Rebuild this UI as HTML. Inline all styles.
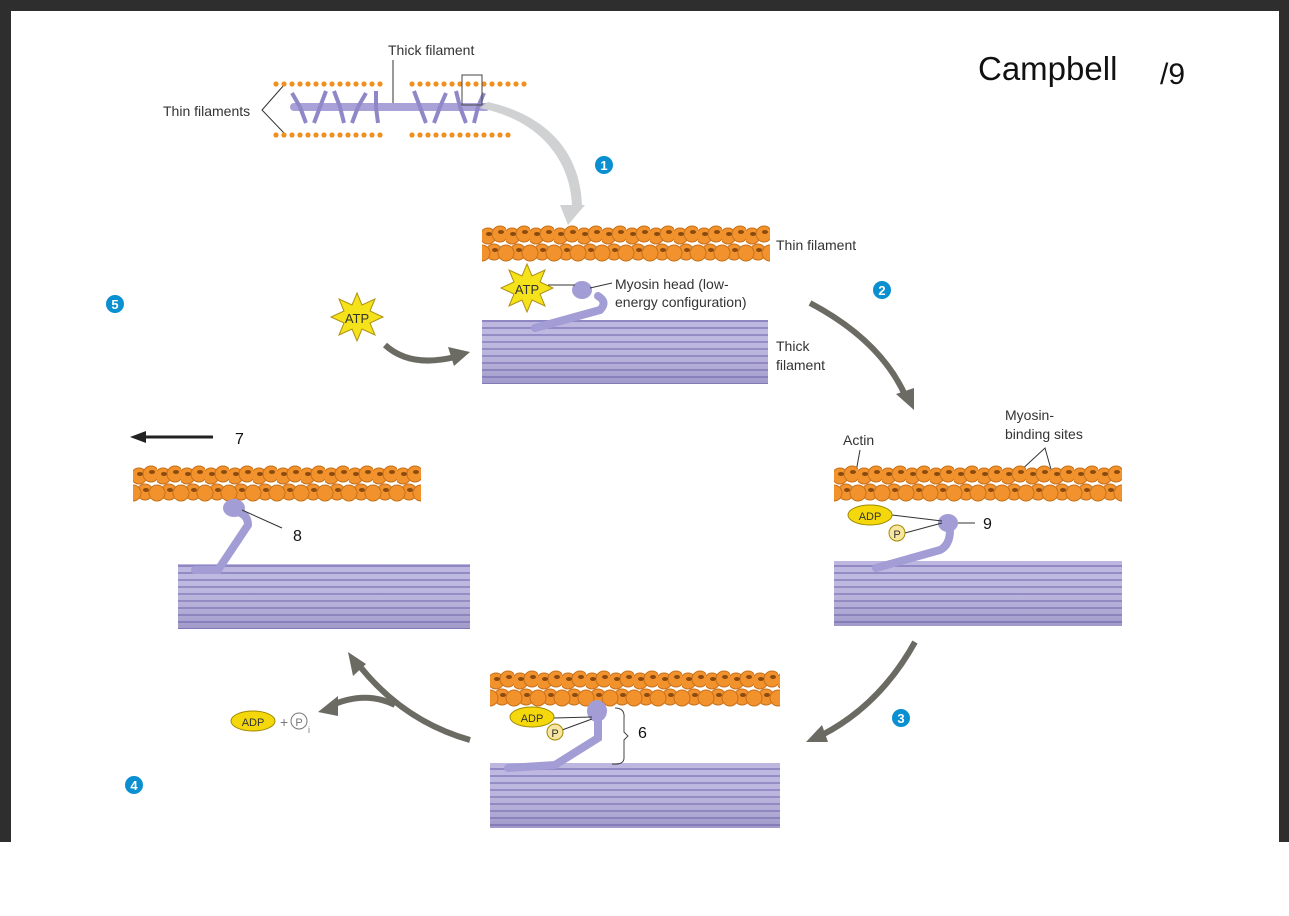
<!DOCTYPE html>
<html><head><meta charset="utf-8"><style>
html,body{margin:0;padding:0;background:#fff}
svg{display:block}
text{font-family:"Liberation Sans",sans-serif}
</style></head><body>
<svg width="1289" height="916" viewBox="0 0 1289 916" xmlns="http://www.w3.org/2000/svg">
<defs>
<pattern id="beads" width="24" height="38" patternUnits="userSpaceOnUse">
<g fill="#f2922c" stroke="#c8701a" stroke-width="1">
<circle cx="6" cy="11" r="8"/><circle cx="18" cy="9" r="8"/>
<circle cx="12" cy="27" r="8"/><circle cx="24" cy="28" r="8"/><circle cx="0" cy="28" r="8"/>
</g>
<g fill="#8a4a10"><ellipse cx="7" cy="9" rx="3" ry="2"/><ellipse cx="19" cy="7" rx="3" ry="2"/><ellipse cx="13" cy="25" rx="3" ry="2"/></g>
</pattern>
<pattern id="thick" width="10" height="7" patternUnits="userSpaceOnUse">
<rect width="10" height="7" fill="#bcb6e0"/><rect y="5" width="10" height="2" fill="#8d86c2"/>
</pattern>
<pattern id="tiny" width="8" height="8" patternUnits="userSpaceOnUse">
<circle cx="4" cy="4" r="2.6" fill="#f0901e"/>
</pattern>
<linearGradient id="shade" x1="0" y1="0" x2="0" y2="1"><stop offset="0" stop-color="#fff" stop-opacity="0"/><stop offset="1" stop-color="#6a629f" stop-opacity=".35"/></linearGradient>
</defs>
<rect width="1289" height="916" fill="#fff"/>
<rect x="0" y="0" width="1289" height="11" fill="#2e2e2e"/>
<rect x="0" y="0" width="11" height="842" fill="#2e2e2e"/>
<rect x="1279" y="0" width="10" height="842" fill="#2e2e2e"/>

<!-- top sarcomere -->
<text x="388" y="55" font-size="14" fill="#333">Thick filament</text>
<line x1="393" y1="60" x2="393" y2="107" stroke="#333"/>
<text x="163" y="116" font-size="14" fill="#333">Thin filaments</text>
<polyline points="284,85 262,110 284,133" fill="none" stroke="#333"/>
<g transform="translate(272,80)"><rect width="112" height="8" fill="url(#tiny)"/></g>
<g transform="translate(408,80)"><rect width="120" height="8" fill="url(#tiny)"/></g>
<g transform="translate(272,131)"><rect width="112" height="8" fill="url(#tiny)"/></g>
<g transform="translate(408,131)"><rect width="104" height="8" fill="url(#tiny)"/></g>
<rect x="290" y="103" width="200" height="8" rx="4" fill="#a8a2d8"/>
<g stroke="#8f88c8" stroke-width="4" fill="#a8a2d8">
<path d="M300,107 l-8,-14 M320,107 l6,-16 M340,107 l-6,-16 M358,107 l8,-14 M376,107 l0,-16 M420,107 l-6,-16 M440,107 l6,-14 M460,107 l-4,-16 M478,107 l6,-14"/>
<path d="M300,107 l6,16 M320,107 l-6,16 M340,107 l4,16 M358,107 l-6,16 M376,107 l2,16 M420,107 l6,16 M440,107 l-6,16 M460,107 l6,16 M478,107 l-4,16"/>
</g>
<rect x="462" y="75" width="20" height="30" fill="none" stroke="#444"/>
<path d="M480,108 C540,120 570,160 572,205 L560,205 L568,225 L585,205 L582,205 C580,150 545,115 488,102 Z" fill="#d0d1d2"/>

<!-- circle numbers -->
<g fill="#0a8fd0"><circle cx="604" cy="165" r="9"/><circle cx="882" cy="290" r="9"/><circle cx="901" cy="718" r="9"/><circle cx="134" cy="785" r="9"/><circle cx="115" cy="304" r="9"/></g>
<g fill="#fff" font-size="13" font-weight="bold" text-anchor="middle"><text x="604" y="170">1</text><text x="882" y="295">2</text><text x="901" y="723">3</text><text x="134" y="790">4</text><text x="115" y="309">5</text></g>

<text x="978" y="80" font-size="33" fill="#111">Campbell</text>
<text x="1160" y="84" font-size="30" fill="#111">/9</text>

<!-- Panel 1 -->
<g transform="translate(482,225)"><rect width="288" height="38" fill="url(#beads)"/></g>
<text x="776" y="250" font-size="14" fill="#333">Thin filament</text>
<rect x="482" y="320" width="286" height="64" fill="url(#thick)"/><rect x="482" y="320" width="286" height="64" fill="url(#shade)"/>
<path d="M535,328 L600,310 Q608,302 598,296" fill="none" stroke="#a39dd6" stroke-width="8" stroke-linecap="round"/>
<ellipse cx="582" cy="290" rx="10" ry="9" fill="#a39dd6"/>
<line x1="548" y1="285" x2="575" y2="285" stroke="#333"/>
<line x1="590" y1="288" x2="612" y2="283" stroke="#333"/>
<polygon points="527,264 532,276 545,270 540,282 553,288 540,294 545,306 532,300 527,312 522,300 509,306 514,294 501,288 514,282 509,270 522,276" fill="#f4e21a" stroke="#b09010"/>
<text x="527" y="294" font-size="13" text-anchor="middle" fill="#333">ATP</text>
<text x="615" y="289" font-size="14" fill="#333">Myosin head (low-</text>
<text x="615" y="307" font-size="14" fill="#333">energy configuration)</text>
<text x="776" y="351" font-size="14" fill="#333">Thick</text>
<text x="776" y="370" font-size="14" fill="#333">filament</text>

<!-- ATP left, arrow 5 -->
<polygon points="357,293 362,305 375,299 370,311 383,317 370,323 375,335 362,329 357,341 352,329 339,335 344,323 331,317 344,311 339,299 352,305" fill="#f4e21a" stroke="#b09010"/>
<text x="357" y="323" font-size="13" text-anchor="middle" fill="#333">ATP</text>
<path d="M385,345 Q410,368 455,357" fill="none" stroke="#6b6b63" stroke-width="6"/>
<polygon points="470,352 448,347 454,366" fill="#6b6b63"/>

<!-- arrow 2 -->
<path d="M810,303 Q880,340 905,395" fill="none" stroke="#6b6b63" stroke-width="6"/>
<polygon points="914,410 896,394 914,388" fill="#6b6b63"/>

<!-- Panel 2 -->
<text x="843" y="445" font-size="14" fill="#333">Actin</text>
<line x1="860" y1="450" x2="856" y2="472" stroke="#333"/>
<text x="1005" y="420" font-size="14" fill="#333">Myosin-</text>
<text x="1005" y="439" font-size="14" fill="#333">binding sites</text>
<polyline points="1018,473 1045,448 1052,473" fill="none" stroke="#333"/>
<g transform="translate(834,465)"><rect width="288" height="38" fill="url(#beads)"/></g>
<rect x="834" y="561" width="288" height="65" fill="url(#thick)"/><rect x="834" y="561" width="288" height="65" fill="url(#shade)"/>
<path d="M876,568 L940,550 Q950,545 950,530" fill="none" stroke="#a39dd6" stroke-width="8" stroke-linecap="round"/>
<ellipse cx="948" cy="523" rx="10" ry="9" fill="#a39dd6"/>
<line x1="892" y1="515" x2="942" y2="521" stroke="#333"/><line x1="905" y1="533" x2="942" y2="523" stroke="#333"/>
<line x1="958" y1="523" x2="975" y2="523" stroke="#333"/>
<ellipse cx="870" cy="515" rx="22" ry="10" fill="#f4d80c" stroke="#a08a00"/>
<text x="870" y="520" font-size="11" text-anchor="middle" fill="#333">ADP</text>
<circle cx="897" cy="533" r="8" fill="#f8e6a0" stroke="#a08a00"/>
<text x="897" y="538" font-size="11" text-anchor="middle" fill="#333">P</text>
<text x="983" y="529" font-size="16" fill="#111">9</text>

<!-- arrow 3 -->
<path d="M915,642 Q880,705 822,735" fill="none" stroke="#6b6b63" stroke-width="6"/>
<polygon points="806,742 822,725 828,742" fill="#6b6b63"/>

<!-- Panel 3 -->
<g transform="translate(490,670)"><rect width="290" height="38" fill="url(#beads)"/></g>
<rect x="490" y="763" width="290" height="65" fill="url(#thick)"/><rect x="490" y="763" width="290" height="65" fill="url(#shade)"/>
<path d="M508,768 L555,765 L598,738 L598,718" fill="none" stroke="#a39dd6" stroke-width="8" stroke-linecap="round"/>
<ellipse cx="597" cy="711" rx="10" ry="11" fill="#a39dd6"/>
<line x1="554" y1="718" x2="592" y2="717" stroke="#333"/><line x1="562" y1="730" x2="592" y2="719" stroke="#333"/>
<ellipse cx="532" cy="717" rx="22" ry="10" fill="#f4d80c" stroke="#a08a00"/>
<text x="532" y="722" font-size="11" text-anchor="middle" fill="#333">ADP</text>
<circle cx="555" cy="732" r="8" fill="#f8e6a0" stroke="#a08a00"/>
<text x="555" y="737" font-size="11" text-anchor="middle" fill="#333">P</text>
<path d="M615,708 Q625,708 624,718 L624,732 L628,736 L624,740 L624,758 Q624,765 612,764" fill="none" stroke="#444"/>
<text x="638" y="738" font-size="16" fill="#111">6</text>

<!-- arrow 4 -->
<path d="M470,740 Q400,720 355,660" fill="none" stroke="#6b6b63" stroke-width="6"/>
<polygon points="348,652 366,664 353,676" fill="#6b6b63"/>
<path d="M395,705 Q365,690 330,706" fill="none" stroke="#6b6b63" stroke-width="6"/>
<polygon points="318,712 338,696 338,716" fill="#6b6b63"/>
<ellipse cx="253" cy="721" rx="22" ry="10" fill="#f4d80c" stroke="#a08a00"/>
<text x="253" y="726" font-size="11" text-anchor="middle" fill="#333">ADP</text>
<text x="280" y="727" font-size="14" fill="#777">+</text>
<circle cx="299" cy="721" r="8" fill="#fff" stroke="#777"/>
<text x="299" y="726" font-size="11" text-anchor="middle" fill="#777">P</text>
<text x="308" y="733" font-size="9" fill="#777">i</text>

<!-- Panel 4 -->
<line x1="140" y1="437" x2="213" y2="437" stroke="#222" stroke-width="3"/>
<polygon points="130,437 146,431 146,443" fill="#222"/>
<text x="235" y="444" font-size="16" fill="#111">7</text>
<g transform="translate(133,465)"><rect width="288" height="38" fill="url(#beads)"/></g>
<rect x="178" y="564" width="292" height="65" fill="url(#thick)"/><rect x="178" y="564" width="292" height="65" fill="url(#shade)"/>
<path d="M195,570 L218,570 L248,525 Q248,515 238,512" fill="none" stroke="#a39dd6" stroke-width="8" stroke-linecap="round"/>
<ellipse cx="234" cy="508" rx="11" ry="9" fill="#a39dd6"/>
<line x1="242" y1="510" x2="282" y2="528" stroke="#333"/>
<text x="293" y="541" font-size="16" fill="#111">8</text>
</svg>
</body></html>
